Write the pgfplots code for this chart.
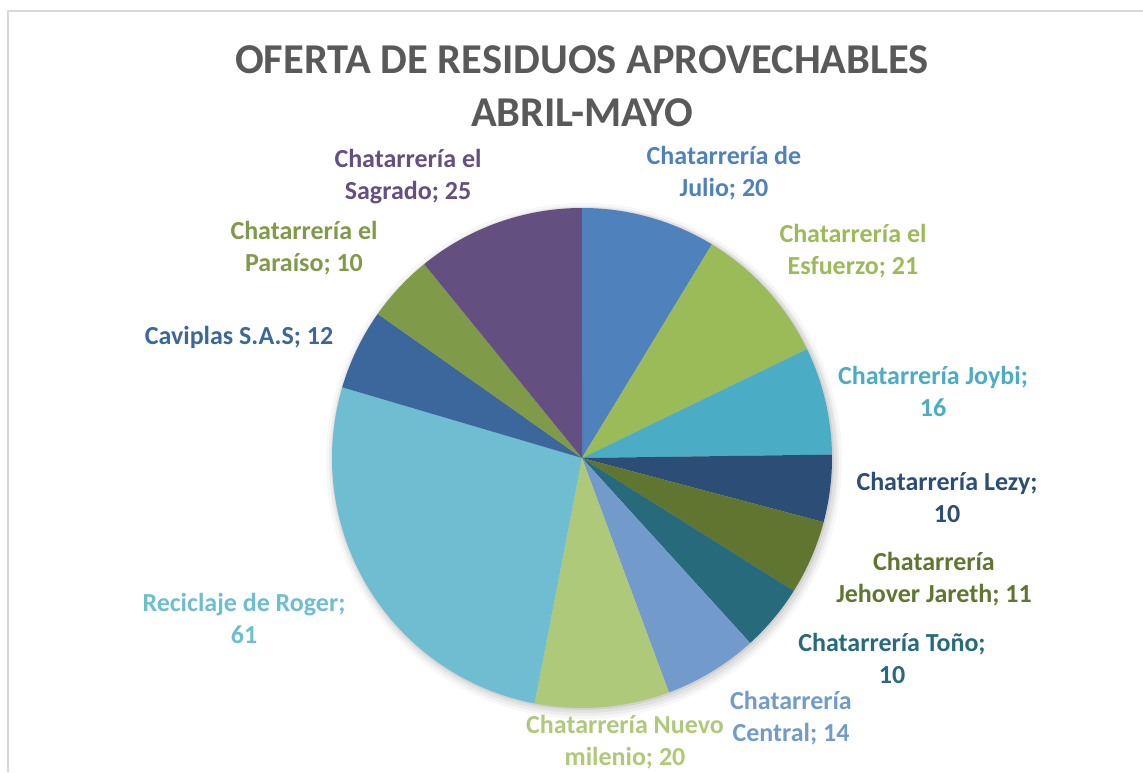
\documentclass[border=0pt]{standalone}
\usepackage{pgfplots}
\pgfplotsset{compat=1.18}
\usepackage{fontspec}
\setmainfont{Carlito}
\definecolor{cJulio}{HTML}{4F81BD}
\definecolor{cEsfuerzo}{HTML}{9BBB59}
\definecolor{cJoybi}{HTML}{4BACC6}
\definecolor{cLezy}{HTML}{2C4D75}
\definecolor{cJehover}{HTML}{5F7530}
\definecolor{cTono}{HTML}{276A7C}
\definecolor{cCentral}{HTML}{729ACA}
\definecolor{cNuevo}{HTML}{AFC97A}
\definecolor{cRoger}{HTML}{6FBDD1}
\definecolor{cCaviplas}{HTML}{3B679C}
\definecolor{cParaiso}{HTML}{7F9A48}
\definecolor{cSagrado}{HTML}{644F81}
\definecolor{ctitle}{HTML}{595959}
% axis unit = 10 px; pie centre (58.2,31.4), radius 25
% #1 = cumulative value before the slice, #2 = slice value, #3 = colour (total 230)
\newcommand{\slice}[3]{%
  \fill[#3] (axis cs:58.2,31.4) -- ++({90-(#1)/230*360}:250pt)
    arc[start angle={90-(#1)/230*360}, delta angle={-(#2)/230*360}, radius=250pt] -- cycle;}
\newcommand{\lab}[4]{%
  \node[text=#3, font=\bfseries\fontsize{26}{32}\selectfont, align=center, inner sep=0pt]
    at (axis cs:#1,#2) {#4};}
\begin{document}
\begin{tikzpicture}
\begin{axis}[x=10pt, y=10pt, xmin=0, xmax=114.3, ymin=0, ymax=77.2,
  hide axis, clip=false, at={(0,0)}, anchor=origin]
  % chart border
  \draw[color=black!15, line width=1.2pt] (axis cs:0.8,0) -- (axis cs:0.8,76.1) -- (axis cs:114.3,76.1);
  % title
  \node[text=ctitle, font=\bfseries\fontsize{42.5}{53}\selectfont, align=center, inner sep=0pt]
    at (axis cs:58.2,68.6) {OFERTA DE RESIDUOS APROVECHABLES\\ABRIL-MAYO};
  % soft shadow
  \fill[black, opacity=0.03] (axis cs:58.4,31.1) circle[radius=25.8];
  \fill[black, opacity=0.04] (axis cs:58.4,31.1) circle[radius=25.5];
  \fill[black, opacity=0.05] (axis cs:58.4,31.2) circle[radius=25.3];
  \fill[black, opacity=0.07] (axis cs:58.3,31.3) circle[radius=25.1];
  % slices
  \slice{0}{20}{cJulio}
  \slice{20}{21}{cEsfuerzo}
  \slice{41}{16}{cJoybi}
  \slice{57}{10}{cLezy}
  \slice{67}{11}{cJehover}
  \slice{78}{10}{cTono}
  \slice{88}{14}{cCentral}
  \slice{102}{20}{cNuevo}
  \slice{122}{61}{cRoger}
  \slice{183}{12}{cCaviplas}
  \slice{195}{10}{cParaiso}
  \slice{205}{25}{cSagrado}
  % labels
  \lab{72.4}{59.9}{cJulio}{Chatarrería de\\Julio; 20}
  \lab{85.3}{52.1}{cEsfuerzo}{Chatarrería el\\Esfuerzo; 21}
  \lab{93.3}{38.1}{cJoybi}{Chatarrería Joybi;\\16}
  \lab{94.7}{27.5}{cLezy}{Chatarrería Lezy;\\10}
  \lab{93.4}{19.3}{cJehover}{Chatarrería\\Jehover Jareth; 11}
  \lab{89.2}{11.4}{cTono}{Chatarrería Toño;\\10}
  \lab{79.1}{5.4}{cCentral}{Chatarrería\\Central; 14}
  \lab{62.5}{3.0}{cNuevo}{Chatarrería Nuevo\\milenio; 20}
  \lab{24.4}{15.4}{cRoger}{Reciclaje de Roger;\\61}
  \lab{23.9}{43.5}{cCaviplas}{Caviplas S.A.S; 12}
  \lab{30.4}{52.4}{cParaiso}{Chatarrería el\\Paraíso; 10}
  \lab{40.8}{59.5}{cSagrado}{Chatarrería el\\Sagrado; 25}
\end{axis}
\pgfresetboundingbox
\path (0,0) rectangle (1143pt,772pt);
\end{tikzpicture}
\end{document}
